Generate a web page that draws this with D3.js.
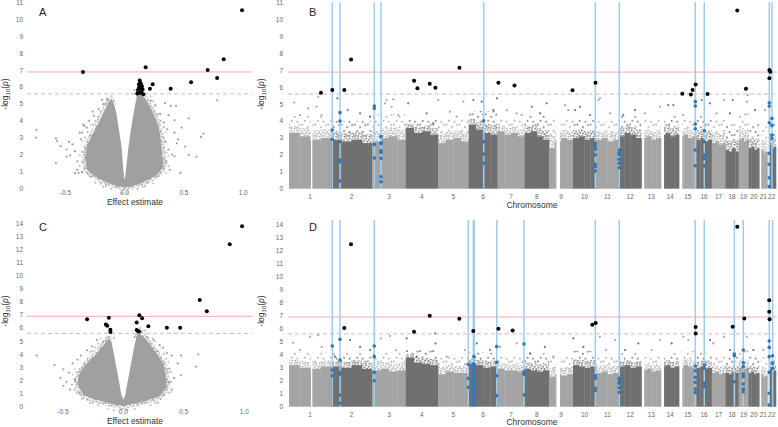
<!DOCTYPE html>
<html><head><meta charset="utf-8">
<script src="https://cdn.jsdelivr.net/npm/d3@7"></script>
<style>body{margin:0;background:#fff}svg{display:block;font-family:"Liberation Sans",Arial,sans-serif}</style>
</head><body><svg id="c" width="778" height="427"></svg>
<script>
// ---------------- DATA ----------------
const chromosomes = d3.range(1, 23);
const chrLengthMb = [249,243,198,191,181,171,159,146,141,136,135,134,115,107,103,90,81,78,59,63,48,51];
const chrGaps = [[1,128,138],[9,41,64],[13,0,16],[14,0,18],[15,0,19],[21,0,12],[22,0,14]];
const volcanoTicksX = [-0.5, 0.0, 0.5, 1.0];
const ticksYTop = d3.range(0, 12);
const ticksYBottom = d3.range(0, 15);
const thresholdSolid = 6.9, thresholdDashed = 5.6;

// dense cloud outlines of the volcano plots [effect, -log10 p]: outer edge, then the V notch
const cloudOuterA = [[-0.11,5.25],[-0.135,5.15],[-0.152,4.84],[-0.194,4.25],[-0.236,3.65],[-0.28,3.06],[-0.32,2.5],[-0.335,1.87],[-0.32,1.1],[-0.25,0.7],[-0.15,0.35],[-0.07,0.15],[0.0,0.05],[0.1,0.2],[0.2,0.5],[0.28,0.85],[0.326,1.3],[0.315,2.1],[0.30,3.2],[0.27,4.0],[0.213,4.8],[0.17,5.35],[0.13,5.65],[0.11,5.6]];
const cloudNotchA = [[0.095,5.2],[0.075,4.45],[0.052,3.46],[0.032,2.47],[0.014,1.3],[0.002,0.55],[-0.002,0.55],[-0.014,1.3],[-0.026,2.47],[-0.048,3.46],[-0.07,4.45],[-0.09,5.0]];
const cloudOuterC = [[-0.12,5.2],[-0.14,5.0],[-0.165,4.7],[-0.22,4.07],[-0.28,3.5],[-0.33,3.0],[-0.37,2.4],[-0.38,1.7],[-0.33,0.9],[-0.25,0.6],[-0.15,0.35],[-0.07,0.15],[0.0,0.05],[0.1,0.25],[0.2,0.5],[0.3,0.8],[0.36,1.5],[0.35,2.5],[0.33,3.3],[0.28,4.0],[0.248,4.4],[0.2,5.0],[0.16,5.4],[0.125,5.6],[0.11,5.4]];
const cloudNotchC = [[0.09,4.58],[0.069,3.56],[0.043,2.29],[0.016,0.9],[0.0,0.55],[-0.016,0.9],[-0.043,2.29],[-0.069,3.56],[-0.09,4.58],[-0.1,5.0]];
const sparseA = [[-0.743,3.46],[-0.747,3.0],[-0.58,2.96],[-0.57,2.8],[-0.54,2.5],[-0.47,2.75],[-0.49,2.3],[-0.49,1.88],[-0.46,1.95],[-0.58,1.5],[-0.39,0.91],[-0.36,0.96],[-0.35,3.78],[-0.32,3.6],[-0.38,3.3],[-0.27,4.55],[-0.19,5.24],[-0.15,5.3],[-0.11,5.13],[-0.42,2.2],[-0.40,1.6],[-0.44,2.6],[-0.37,2.9],[-0.36,3.3],[-0.34,3.7],[-0.30,4.0],[-0.26,4.3],[-0.22,4.7],[-0.18,5.0],[-0.40,1.1],[-0.42,0.9],
 [0.433,4.89],[0.39,4.89],[0.48,3.6],[0.54,4.15],[0.644,3.05],[0.665,3.25],[0.605,1.87],[0.54,1.97],[0.47,0.91],[0.34,5.05],[0.37,4.34],[0.42,4.03],[0.78,5.22],[0.51,2.47],[0.44,2.67],[0.42,1.9],[0.32,1.5],[0.35,1.6],[0.37,2.3],[0.34,2.8],[0.36,3.5],[0.33,3.9],[0.30,4.4],[0.26,4.9],[0.22,5.2],[0.38,1.1],[0.40,2.0],[0.45,2.9],[0.42,3.3]];
const sparseC = [[-0.716,3.9],[-0.57,3.18],[-0.496,2.85],[-0.496,1.6],[-0.52,2.2],[-0.45,2.6],[-0.42,3.3],[-0.40,2.0],[-0.38,3.6],[-0.30,4.3],[-0.26,4.6],[-0.22,5.1],[-0.44,1.3],[-0.36,1.0],[-0.47,1.9],[-0.35,3.9],
 [0.62,4.0],[0.60,3.05],[0.477,3.9],[0.477,2.4],[0.40,3.9],[0.38,2.9],[0.42,2.2],[0.36,4.1],[0.30,4.7],[0.25,5.1],[0.40,1.3],[0.45,3.3],[0.38,1.9],[0.33,4.5]];
const hitsA = [[0.99,10.56],[-0.352,6.9],[0.177,7.18],[0.70,7.02],[0.835,7.65],[0.78,6.54],[0.56,6.29],[0.388,5.9],[0.236,6.17],[0.213,5.9],[0.127,6.4],[0.135,6.23],[0.146,6.05],[0.12,5.97],[0.151,5.86],[0.112,5.83],[0.13,5.66],[0.14,5.7],[0.107,5.62],[0.157,5.58],[0.12,6.17],[0.135,5.93]];
const hitsC = [[0.982,13.78],[0.88,12.4],[0.632,8.15],[0.69,7.28],[-0.30,6.67],[-0.12,6.79],[-0.145,6.28],[-0.133,6.17],[-0.107,5.88],[-0.107,5.7],[0.132,6.98],[0.155,6.75],[0.11,6.42],[0.207,6.14],[0.11,5.85],[0.12,5.78],[0.13,5.75],[0.36,6.03],[0.47,6.02]];

// Manhattan: top of the solid part of the cloud, per chromosome quarter
const denseTopB = [[3.3,3.1,2.9,3.0],[2.9,2.8,2.9,2.7],[2.8,3.0,3.1,2.9],[3.6,3.3,3.4,3.2],[2.7,2.9,3.0,2.8],[3.8,3.5,3.3,3.2],[3.4,3.2,3.3,3.1],[3.3,3.4,3.1,2.9],[2.4,2.8,3.0,2.9],[3.0,3.1,2.9,3.0],[2.9,3.0,2.8,2.9],[3.1,3.3,3.2,3.0],[3.0,3.1,2.9,3.0],[3.2,3.3,3.1,3.2],[3.1,3.2,3.0,3.1],[2.9,3.0,2.8,2.9],[2.7,2.8,2.6,2.7],[2.3,2.2,2.4,2.2],[2.9,3.0,2.8,2.9],[2.4,2.5,2.3,2.4],[2.2,2.3,2.1,2.2],[2.5,2.6,2.4,2.5]];
const speckleTopB = [4.3,4.0,4.4,4.2,4.1,4.6,4.2,4.3,4.2,4.2,4.0,4.3,4.1,4.3,4.2,4.3,4.2,3.8,4.5,3.9,3.8,4.0];
const denseTopD = [[3.2,3.0,2.9,3.1],[3.1,3.0,3.2,2.9],[2.8,2.9,2.7,2.8],[3.8,3.4,3.3,3.2],[2.5,2.7,2.6,2.6],[3.3,3.2,3.0,3.1],[2.9,2.8,2.8,2.7],[2.9,2.8,2.7,2.8],[2.3,2.5,2.4,2.5],[3.2,3.1,3.0,3.1],[2.6,2.7,2.5,2.6],[3.1,3.2,3.0,3.1],[2.8,2.9,2.7,2.8],[3.1,3.2,3.0,3.1],[3.0,3.2,3.1,3.0],[3.0,3.1,2.9,3.0],[2.6,2.7,2.5,2.6],[2.6,2.5,2.7,2.6],[3.0,3.1,2.9,3.0],[2.6,2.7,2.5,2.6],[2.4,2.5,2.3,2.4],[2.8,2.9,2.7,2.8]];
const speckleTopD = [4.2,4.1,4.2,4.4,4.0,4.2,4.0,4.1,3.9,4.3,4.0,4.1,4.0,4.1,4.3,4.2,4.0,4.0,4.4,3.9,3.8,4.0];
// [chr, Mb, -log10 p]
const sparseB = [[1,31,5.1],[1,173,5.44],[1,163,4.85],[1,114,4.75],[1,65,4.36],[1,193,4.36],[2,37,5.35],[2,98,4.65],[2,171,4.46],[2,230,4.26],[3,75,5.05],[3,85,5.25],[3,125,5.29],[3,115,4.85],[3,154,4.36],[4,15,5.05],[4,124,4.46],[5,2,5.25],[4,163,3.87],[5,71,4.56],[5,150,5.15],[5,110,4.26],[6,28,5.25],[6,77,5.15],[6,146,4.65],[6,168,5.35],[7,54,4.65],[7,113,4.46],[7,142,4.36],[8,43,4.85],[8,131,5.05],[8,92,4.46],[9,94,4.95],[9,113,4.65],[10,12,4.65],[10,41,4.85],[10,100,4.36],[11,23,5.35],[11,14,5.25],[11,83,4.46],[12,95,4.65],[12,26,4.36],[13,20,4.46],[13,109,4.85],[14,43,4.95],[14,73,4.95],[15,25,4.36],[16,80,5.05],[16,31,5.25],[17,29,4.46],[17,72,5.25],[18,43,5.25],[18,27,4.46],[19,48,5.15],[19,54,5.54],[20,38,4.65],[21,34,4.65]];
const sparseD = [[1,25,4.92],[1,124,5.38],[1,173,5.5],[1,193,4.6],[1,65,4.36],[2,112,5.13],[2,171,4.6],[2,230,4.36],[2,23,3.85],[3,52,5.26],[3,105,5.44],[3,140,4.36],[4,6,5.26],[4,65,3.85],[4,173,5.64],[4,176,4.87],[5,51,3.85],[5,159,4.36],[6,48,4.87],[6,126,4.36],[7,14,4.6],[7,113,4.87],[8,33,4.1],[8,121,4.6],[9,24,3.85],[10,2,5.26],[10,61,4.6],[11,23,5.38],[11,112,5.13],[11,60,4.36],[12,115,4.87],[12,37,4.36],[13,109,5.13],[13,60,4.36],[14,63,4.87],[15,25,5.38],[15,55,5.13],[16,80,5.13],[17,9,4.87],[17,72,5.38],[18,27,4.36],[19,48,5.38],[20,28,4.36],[21,24,4.36]];
// [chr, Mb] positions of highlighted genes (blue lines)
const genesB = [[2,7],[2,52.5],[3,12.3],[3,52],[6,89],[10,131.7],[12,2.6],[15,96],[16,46],[22,11.3],[22,27]];
const genesD = [[2,7],[2,52.5],[3,12],[5,179],[6,27.5],[6,33],[6,166],[7,156],[10,132],[12,2.6],[15,96],[16,46],[18,52.5],[19,27.7],[22,11],[22,31]];
// [chr, Mb, -log10 p] highlighted SNPs (blue) and significant (black)
const blueB = [[2,7,3.47],[2,7,2.92],[2,52.5,4.5],[2,52.5,4.0],[2,52.5,2.78],[2,52.5,1.7],[2,52.5,1.6],[2,52.5,0.45],[3,12.3,4.89],[3,12.3,4.75],[3,12.3,2.62],[3,12.3,1.81],[3,52,3.08],[3,52,2.72],[3,52,2.68],[3,52,2.25],[3,52,2.15],[3,52,1.8],[3,52,0.71],[3,52,0.41],[6,89,4.02],[6,89,2.78],[6,89,2.05],[6,89,1.5],[10,131.7,2.68],[10,131.7,2.49],[10,131.7,2.33],[10,131.7,1.99],[10,131.7,1.46],[10,131.7,1.3],[10,131.7,1.05],[12,2.6,2.29],[12,2.6,2.13],[12,2.6,2.03],[12,2.6,1.74],[12,2.6,1.5],[12,2.6,1.24],[15,96,5.15],[15,96,4.89],[15,96,3.83],[15,96,3.55],[15,96,2.29],[15,96,1.36],[16,46,3.43],[16,46,2.78],[16,46,1.99],[16,46,1.8],[16,46,1.36],[22,11.3,5.09],[22,11.3,4.89],[22,11.3,3.9],[22,11.3,2.09],[22,11.3,1.44],[22,11.3,0.65],[22,11.3,0.12],[22,27,4.16],[22,27,3.73],[22,27,3.18],[22,27,2.98]];
const blackB = [[1,189,5.68],[2,7,5.84],[2,78,5.84],[2,118,7.65],[4,49.5,6.39],[4,69,5.94],[4,142,6.21],[4,175.5,5.98],[5,126.6,7.16],[7,5,6.27],[7,100,6.11],[9,138,5.82],[10,133,6.27],[15,19,5.62],[15,70,5.58],[15,80,5.84],[15,98,6.17],[16,65.6,5.6],[18,70,10.55],[19,43.6,5.92],[22,12,7.02],[22,17,6.92],[22,12,6.53]];
const blueD = [[2,7,4.67],[2,7,2.82],[2,7,2.38],[2,52.5,5.18],[2,52.5,3.59],[2,52.5,2.62],[2,52.5,2.5],[2,52.5,0.9],[2,52.5,0.26],[3,12,4.67],[3,12,3.85],[3,12,2.64],[3,12,2.0],[5,179,3.26],[5,179,2.18],[5,179,1.49],[6,31,3.85],[6,31,3.08],[6,30,3.3],[6,30,3.1],[6,30,2.9],[6,30,2.7],[6,30,2.5],[6,30,2.3],[6,30,2.1],[6,30,1.9],[6,30,1.7],[6,30,1.5],[6,30,1.3],[6,30,1.1],[6,30,0.9],[6,30,0.7],[6,30,0.5],[6,30,0.3],[6,30,0.13],[6,166,4.62],[6,166,3.41],[6,166,2.38],[6,166,0.85],[7,156,4.82],[7,156,2.69],[7,156,2.49],[7,156,0.9],[10,132,2.38],[10,132,2.18],[10,132,1.41],[10,132,1.23],[12,2.6,2.18],[12,2.6,2.0],[12,2.6,1.8],[12,2.6,1.46],[12,2.6,1.1],[15,96,3.13],[15,96,2.77],[15,96,2.26],[15,96,1.87],[15,96,1.36],[15,96,1.08],[16,46,3.2],[16,46,2.95],[16,46,1.8],[16,46,1.54],[18,52.5,4.05],[18,52.5,3.92],[18,52.5,1.92],[19,27.7,4.36],[19,27.7,3.38],[19,27.7,3.08],[19,27.7,2.51],[19,27.7,2.31],[19,27.7,1.74],[19,27.7,1.36],[19,27.7,1.15],[22,11,5.05],[22,11,4.56],[22,11,3.85],[22,11,2.64],[22,11,1.03],[22,11,0.13],[22,31,3.92],[22,31,3.33],[22,31,2.95]];
const blackD = [[2,117.5,12.49],[2,78,6.05],[4,49,5.77],[4,142,7.0],[5,126,6.77],[6,27.5,5.82],[7,5,6.0],[7,89,5.87],[10,114,6.31],[10,134,6.44],[15,98,6.13],[15,98,5.64],[18,43,6.15],[18,70,13.85],[19,33.6,6.79],[22,11,8.18],[22,11,7.31],[22,13,6.72]];

// ---------------- DRAWING ----------------
const svg = d3.select('#c');
const defs = svg.append('defs');
const colLight = '#a4a4a4', colDark = '#707070', colVolc = '#a0a0a0';
const colBlueLine = '#9fcceb', colBluePt = '#2c78bd', colThr = '#f2abab';

// dotted textures used for the fuzzy fringe of the point clouds (style only)
function dotPattern(id, color, w, h, dots, r) {
  const p = defs.append('pattern').attr('id', id).attr('patternUnits', 'userSpaceOnUse')
    .attr('width', w).attr('height', h);
  dots.forEach(([x, y]) => p.append('circle').attr('cx', x).attr('cy', y).attr('r', r).attr('fill', color));
}
const denseDots = [[0.8,0.8],[3.6,2.2],[6.2,0.5],[2.0,4.0],[5.0,4.6],[7.4,3.2],[1.0,6.4],[4.2,7.0],[6.8,6.2]];
const thinDots = [[1,1],[6.5,3.5],[3.5,7.5],[9,8.5],[11.5,1.5]];
[['light', colLight], ['dark', colDark], ['volc', colVolc]].forEach(([k, c]) => {
  dotPattern('pd_' + k, c, 8.3, 8.1, denseDots, 0.95);
  dotPattern('pt_' + k, c, 13.1, 10.3, thinDots, 0.95);
});

const offsets = []; let acc = 0;
chrLengthMb.forEach(l => { offsets.push(acc); acc += l; });
const genomeMb = acc;
const gpos = (c, mb) => offsets[c - 1] + mb;

function yAxisTitle(x, y) {
  const t = svg.append('text').attr('transform', `translate(${x},${y}) rotate(-90)`)
    .attr('text-anchor', 'middle').attr('font-size', 8.5).attr('fill', '#333');
  t.append('tspan').text('-log');
  t.append('tspan').attr('font-size', 6).attr('dy', 2).text('10');
  t.append('tspan').attr('dy', -2).text('(');
  t.append('tspan').attr('font-style', 'italic').text('p');
  t.append('tspan').text(')');
}
function yTicks(ys, ticks, xRight) {
  svg.append('g').selectAll('text').data(ticks).join('text')
    .attr('x', xRight).attr('y', d => ys(d) + 2.3).attr('text-anchor', 'end')
    .attr('font-size', 6.5).attr('fill', '#666').text(d => d);
}
function thresholds(xs0, xs1, ys) {
  svg.append('line').attr('x1', xs0).attr('x2', xs1).attr('y1', ys(thresholdSolid)).attr('y2', ys(thresholdSolid))
    .attr('stroke', colThr).attr('stroke-width', 1);
  svg.append('line').attr('x1', xs0).attr('x2', xs1).attr('y1', ys(thresholdDashed)).attr('y2', ys(thresholdDashed))
    .attr('stroke', colThr).attr('stroke-width', 1).attr('stroke-dasharray', '4,3');
}

function volcano(cfg) {
  const xs = d3.scaleLinear().domain(cfg.xDomain).range([27, 252]);
  const ys = d3.scaleLinear().domain([0, cfg.yMax]).range([cfg.y0, cfg.yTop]);
  const open = d3.line().x(d => xs(d[0])).y(d => ys(d[1])).curve(d3.curveCatmullRom);
  const closed = d3.line().x(d => xs(d[0])).y(d => ys(d[1])).curve(d3.curveLinearClosed);
  svg.append('path').attr('d', open(cfg.outer)).attr('fill', 'none').attr('stroke', 'url(#pt_volc)').attr('stroke-width', 13).attr('stroke-linecap', 'round');
  svg.append('path').attr('d', open(cfg.outer)).attr('fill', 'none').attr('stroke', 'url(#pd_volc)').attr('stroke-width', 6).attr('stroke-linecap', 'round');
  svg.append('path').attr('d', closed(cfg.outer.concat(cfg.notch))).attr('fill', colVolc);
  svg.append('g').selectAll('circle').data(cfg.sparse).join('circle')
    .attr('cx', p => xs(p[0])).attr('cy', p => ys(p[1])).attr('r', 1.1).attr('fill', colVolc);
  thresholds(27, 252, ys);
  svg.append('g').selectAll('circle').data(cfg.hits).join('circle')
    .attr('cx', p => xs(p[0])).attr('cy', p => ys(p[1])).attr('r', 2).attr('fill', '#000');
  yTicks(ys, cfg.ticks, 23);
  svg.append('g').selectAll('text').data(volcanoTicksX).join('text')
    .attr('x', v => xs(v)).attr('y', cfg.tickY).attr('text-anchor', 'middle')
    .attr('font-size', 6.5).attr('fill', '#666').text(v => v.toFixed(1));
  svg.append('text').attr('x', 135).attr('y', cfg.titleY).attr('text-anchor', 'middle')
    .attr('font-size', 8.5).attr('fill', '#333').text('Effect estimate');
  yAxisTitle(8, cfg.titleYc);
  svg.append('text').attr('x', 39).attr('y', cfg.letterY).attr('font-size', 11).attr('fill', '#222').text(cfg.letter);
}

function manhattan(cfg) {
  const xs = d3.scaleLinear().domain([0, genomeMb]).range([289, 776]);
  const ys = d3.scaleLinear().domain([0, cfg.yMax]).range([cfg.y0, cfg.yTop]);
  const g = svg.append('g');
  chromosomes.forEach((c, i) => {
    const L = chrLengthMb[i];
    const gaps = chrGaps.filter(d => d[0] === c).map(d => [d[1], d[2]]);
    // split into quarters, then cut out the gaps
    let segs = cfg.dense[i].map((h, q) => [q * L / 4, (q + 1) * L / 4, h]);
    gaps.forEach(([a, b]) => {
      segs = segs.flatMap(([s, e, h]) => {
        if (b <= s || a >= e) return [[s, e, h]];
        const out = [];
        if (a > s) out.push([s, a, h]);
        if (b < e) out.push([b, e, h]);
        return out;
      });
    });
    const k = i % 2 === 0 ? 'light' : 'dark';
    const col = i % 2 === 0 ? colLight : colDark;
    const spk = cfg.speckle[i];
    segs.forEach(([s, e, top]) => {
      const x0 = xs(gpos(c, s)), x1 = xs(gpos(c, e));
      const w = Math.max(0, x1 - x0);
      const mid = top + (spk - top) * 0.4;
      g.append('rect').attr('x', x0).attr('width', w).attr('y', ys(spk)).attr('height', Math.max(0, ys(mid) - ys(spk))).attr('fill', `url(#pt_${k})`);
      g.append('rect').attr('x', x0).attr('width', w).attr('y', ys(mid)).attr('height', ys(top) - ys(mid)).attr('fill', `url(#pd_${k})`);
    });
    segs.forEach(([s, e, top]) => {
      const x0 = xs(gpos(c, s)), x1 = xs(gpos(c, e));
      g.append('rect').attr('x', x0).attr('width', Math.max(0, x1 - x0) + 0.3).attr('y', ys(top)).attr('height', ys(0) - ys(top)).attr('fill', col);
    });
  });
  svg.append('g').selectAll('circle').data(cfg.sparse).join('circle')
    .attr('cx', d => xs(gpos(d[0], d[1]))).attr('cy', d => ys(d[2])).attr('r', 1.1)
    .attr('fill', d => (d[0] % 2 === 1 ? colLight : colDark));
  thresholds(288, 777, ys);
  svg.append('g').selectAll('line').data(cfg.genes).join('line')
    .attr('x1', d => xs(gpos(d[0], d[1]))).attr('x2', d => xs(gpos(d[0], d[1])))
    .attr('y1', ys(0)).attr('y2', cfg.lineTop).attr('stroke', colBlueLine).attr('stroke-width', 1.5);
  svg.append('g').selectAll('circle').data(cfg.blue).join('circle')
    .attr('cx', d => xs(gpos(d[0], d[1]))).attr('cy', d => ys(d[2])).attr('r', 1.8).attr('fill', colBluePt);
  svg.append('g').selectAll('circle').data(cfg.black).join('circle')
    .attr('cx', d => xs(gpos(d[0], d[1]))).attr('cy', d => ys(d[2])).attr('r', 2).attr('fill', '#000');
  yTicks(ys, cfg.ticks, 283);
  svg.append('g').selectAll('text').data(chromosomes).join('text')
    .attr('x', (c, i) => xs(offsets[i] + chrLengthMb[i] / 2)).attr('y', cfg.tickY).attr('text-anchor', 'middle')
    .attr('font-size', 6.5).attr('fill', '#666').text(c => c);
  svg.append('text').attr('x', 532).attr('y', cfg.titleY).attr('text-anchor', 'middle')
    .attr('font-size', 8.5).attr('fill', '#333').text('Chromosome');
  yAxisTitle(264, cfg.titleYc);
  svg.append('text').attr('x', 309).attr('y', cfg.letterY).attr('font-size', 11).attr('fill', '#222').text(cfg.letter);
}

volcano({ xDomain: [-0.824, 1.074], yMax: 11, y0: 188.3, yTop: 2.84, outer: cloudOuterA, notch: cloudNotchA, sparse: sparseA, hits: hitsA,
  ticks: ticksYTop, tickY: 194.5, titleY: 204.5, titleYc: 94, letter: 'A', letterY: 16 });
volcano({ xDomain: [-0.797, 1.064], yMax: 14, y0: 406.7, yTop: 223.3, outer: cloudOuterC, notch: cloudNotchC, sparse: sparseC, hits: hitsC,
  ticks: ticksYBottom, tickY: 413.5, titleY: 423.5, titleYc: 311, letter: 'C', letterY: 231 });
manhattan({ yMax: 11, y0: 188.7, yTop: 2.8, dense: denseTopB, speckle: speckleTopB, sparse: sparseB, genes: genesB,
  blue: blueB, black: blackB, lineTop: 2, ticks: ticksYTop, tickY: 198.5, titleY: 207.5, titleYc: 94, letter: 'B', letterY: 16 });
manhattan({ yMax: 14, y0: 406.7, yTop: 224.7, dense: denseTopD, speckle: speckleTopD, sparse: sparseD, genes: genesD,
  blue: blueD, black: blackD, lineTop: 220, ticks: ticksYBottom, tickY: 416.5, titleY: 424.5, titleYc: 311, letter: 'D', letterY: 231 });
</script></body></html>
